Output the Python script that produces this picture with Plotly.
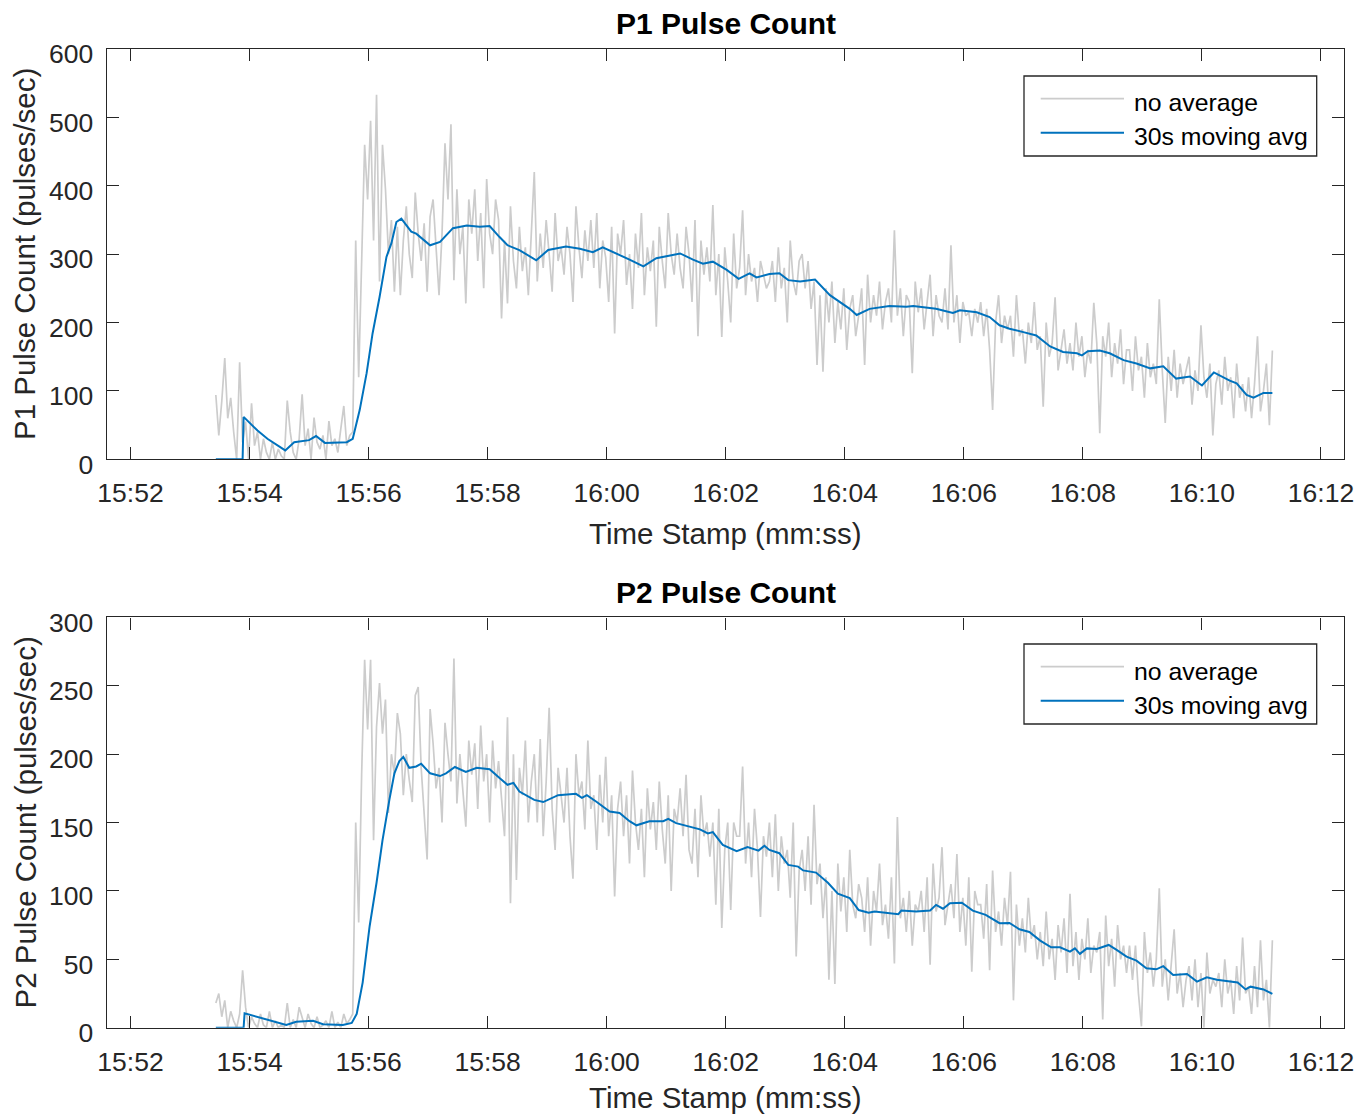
import pandas as pd
import plotly.graph_objects as go

# ---------------- data ----------------
base_time = "2020-01-01 15:52:00"      # reference clock origin (date is arbitrary)
raw_start_s = 86                        # first raw sample, seconds after 15:52:00
raw_step_s = 3                          # raw sampling step (s)

p1_raw = [
    94, 35, 85, 148, 60, 90, 40, 0, 142, 25,
    55, 0, 82, 20, 40, 0, 30, 10, 0, 25,
    0, 15, 5, 0, 86, 40, 10, 0, 30, 95,
    20, 45, 0, 61, 25, 15, 35, 0, 56, 20,
    30, 10, 45, 78, 20, 35,
    40, 320, 120, 300, 460, 380, 495, 320, 533, 260,
    460, 395, 300, 350, 245, 340, 240, 320, 370, 300,
    265, 390, 330, 290, 345, 245, 355, 380, 300, 240,
    330, 462, 380, 490, 262, 395, 300, 340, 228, 380,
    330,
    395, 290, 360, 250, 410, 330, 300, 380, 350, 206,
    320, 228, 370, 290, 250, 340, 275, 310, 240, 330,
    420, 260, 330, 280, 350, 300, 245, 360, 290, 310,
    270, 340, 300, 230, 370, 310, 265, 335, 290, 350,
    280, 360, 250, 320, 295, 230, 340, 184, 330, 300,
    350, 255, 300, 220, 330, 280, 360, 240, 310, 275,
    320, 194, 340, 290, 250, 360, 300, 270, 330, 280,
    250, 340, 300, 230, 350, 180, 320, 270, 310, 260,
    372, 240, 300, 179, 310, 260, 200, 330, 250, 280,
    364, 240, 300, 260, 280, 230, 290, 270, 250, 260,
    290, 230, 310, 250, 280, 200, 320, 260, 240, 290,
    300, 250, 290, 220, 260, 138, 240, 128, 250, 200,
    260, 170, 230, 190, 250, 160, 220, 240, 180, 210,
    250, 138, 270, 200, 240, 210, 260, 190, 230, 250,
    200, 335, 210, 250, 180, 240, 230, 126, 260, 215,
    250, 190, 230, 270, 180, 240, 210, 200, 250, 190,
    313, 200, 240, 170, 230, 210, 215, 180, 220, 200,
    230, 180, 220, 160, 72, 200, 240, 170, 210, 190,
    210, 150, 240, 180, 190, 140, 200, 170, 230, 160,
    180, 77, 200, 150, 170, 237, 130, 160, 190, 140,
    170, 130, 200, 150, 180, 120, 160, 140, 229, 170,
    38, 180, 150, 200, 120, 170, 140, 190, 110, 160,
    160, 100, 180, 130, 150, 90, 170, 120, 140, 110,
    234, 130, 53, 150, 100, 160, 90, 140, 110, 130,
    150, 80, 130, 100, 196, 120, 90, 140, 35, 110,
    130, 80, 150, 100, 120, 60, 140, 90, 110, 70,
    120, 60, 110, 180, 70, 100, 140, 50, 159,
]

p2_raw = [
    18, 25, 8, 20, 0, 12, 5, 0, 10, 42,
    15, 0, 8, 3, 0, 10, 2, 0, 12, 0,
    5, 0, 2, 0, 18, 0, 6, 0, 15, 8,
    0, 10, 3, 0, 8, 0, 2, 5, 0, 12,
    0, 4, 0, 10, 3, 6,
    10, 150, 77, 186, 269, 218, 269, 137, 220, 252,
    215, 240, 157, 200, 185, 230, 215, 170, 200, 181,
    165, 243, 249, 190, 160, 123, 233, 208, 175, 190,
    150, 223, 200, 180, 270, 164, 200, 175, 147, 210,
    185,
    208, 160, 221, 180, 200, 150, 210, 175, 195, 165,
    140, 227, 91, 200, 108, 190, 170, 210, 150, 180,
    200, 150, 211, 140, 180, 234, 160, 130, 190, 170,
    150, 190, 140, 109, 200, 170, 180, 145, 210, 160,
    170, 130, 185, 150, 198, 140, 170, 96, 160, 180,
    140, 170, 120, 188, 150, 130, 160, 110, 175, 145,
    165, 130, 180, 145, 120, 170, 100, 160, 150, 175,
    140, 185, 130, 120, 160, 110, 170, 140, 150, 125,
    150, 90, 160, 73, 130, 150, 86, 150, 140, 140,
    191, 120, 150, 110, 160, 130, 81, 140, 125, 150,
    110, 156, 100, 140, 120, 130, 95, 150, 52, 115,
    130, 100, 140, 90, 163, 105, 120, 80, 110, 35,
    100, 32, 120, 85, 110, 70, 130, 90, 80, 105,
    95, 70, 110, 60, 100, 85, 120, 75, 90, 65,
    110, 47, 154, 80, 95, 70, 100, 60, 90, 85,
    100, 70, 110, 46, 120, 85, 95, 132, 75, 90,
    105, 80, 127, 70, 95, 60, 110, 41, 100, 90,
    90, 65, 105, 42, 115, 70, 85, 60, 95, 75,
    114, 20, 90, 60, 80, 55, 95, 65, 75, 50,
    70, 45, 85, 50, 65, 35, 75, 55, 80, 40,
    98, 45, 70, 35, 65, 50, 80, 40, 60, 55,
    70, 6, 82, 45, 65, 30, 75, 50, 60, 40,
    60, 35, 60, 25, 1, 70, 40, 55, 30, 50,
    102, 30, 50, 20, 45, 72, 25, 40, 15, 35,
    45, 20, 50, 15, 40, 0, 55, 25, 35, 30,
    40, 15, 50, 25, 35, 10, 45, 20, 66, 25,
    30, 10, 45, 15, 64, 20, 35, 0, 64,
]

# 30 s moving average (seconds after 15:52:00, value)
p1_ma_t = [86, 113, 114, 128, 138, 148, 156, 165, 180, 187,
           196, 218, 224, 231, 238, 244, 251, 258, 263, 268,
           273, 283, 288, 302, 312, 325, 339, 352, 362, 372,
           380, 392, 401, 409, 421, 439, 453, 466, 476, 490,
           503, 517, 530, 544, 554, 567, 577, 587, 601, 613,
           624, 631, 644, 654, 663, 675, 690, 705, 715, 725,
           732, 745, 765, 782, 789, 812, 829, 836, 853, 866,
           876, 886, 900, 913, 927, 940, 954, 959, 965, 977,
           987, 1001, 1014, 1028, 1041, 1054, 1068, 1080, 1092, 1108,
           1115, 1125, 1132, 1142, 1151]
p1_ma_v = [0, 0, 62, 42, 30, 20, 13, 25, 28, 34,
           24, 25, 30, 72, 126, 184, 237, 296, 316, 347,
           352, 333, 330, 313, 318, 338, 342, 340, 341, 325,
           313, 306, 298, 291, 306, 311, 308, 303, 310, 301,
           292, 282, 294, 298, 301, 292, 286, 289, 277, 264,
           272, 266, 271, 272, 262, 260, 263, 240, 230, 220,
           211, 220, 224, 223, 224, 220, 214, 218, 215, 208,
           196, 191, 186, 181, 165, 157, 155, 152, 158, 159,
           155, 145, 140, 133, 136, 118, 121, 108, 127, 115,
           111, 94, 90, 97, 97]

p2_ma_t = [86, 114, 115, 130, 143, 157, 167, 184, 194, 214,
           223, 228, 234, 241, 248, 254, 261, 266, 271, 275,
           281, 288, 293, 302, 312, 318, 327, 338, 349, 362,
           372, 380, 386, 392, 407, 416, 431, 449, 455, 460,
           470, 483, 493, 503, 510, 523, 537, 542, 550, 564,
           574, 582, 587, 597, 611, 622, 633, 639, 644, 654,
           663, 673, 678, 691, 703, 713, 725, 734, 744, 750,
           762, 774, 777, 792, 806, 812, 819, 826, 838, 849,
           862, 876, 886, 896, 906, 917, 928, 937, 947, 952,
           957, 964, 974, 986, 994, 1004, 1014, 1024, 1034, 1041,
           1051, 1065, 1075, 1085, 1095, 1108, 1116, 1124, 1129, 1142,
           1151]
p2_ma_v = [0, 0, 10.5, 7.6, 5, 2, 4.3, 5, 2.5, 2,
           3.5, 10, 33, 74, 106, 137, 167, 186, 195, 198,
           190, 191, 193, 186, 184, 186, 190.6, 187, 190, 189,
           182.5, 177.6, 179, 172.7, 166.6, 165, 170, 171, 168, 170,
           165, 158, 157, 151, 148, 151, 151, 152.7, 149.6, 147,
           145, 142, 143, 133.7, 129, 132, 129.5, 133, 130, 127.6,
           119, 117.8, 115, 113.4, 106, 98, 94.7, 86, 84, 85,
           84, 83, 85.7, 85, 85.7, 89.8, 87, 91, 91.4, 85.6,
           82.5, 76.4, 76.6, 72, 70, 63.7, 58.8, 58.8, 55.6, 58,
           54, 58, 57.5, 60.5, 56.9, 52, 49, 43.5, 42.7, 45,
           38.6, 39.3, 33.7, 36.9, 35, 33.7, 33, 28, 30, 28,
           24.7]

titles = ["P1 Pulse Count", "P2 Pulse Count"]
y_titles = ["P1 Pulse Count (pulses/sec)", "P2 Pulse Count (pulses/sec)"]
x_title = "Time Stamp (mm:ss)"
legend_names = ["no average", "30s moving avg"]
y_max = [600, 300]
y_dtick = [100, 50]
x_range = ["2020-01-01 15:51:36", "2020-01-01 16:12:23.5"]

# ---------------- build ----------------
W, H = 1370, 1116
t0 = pd.Timestamp(base_time)


def raw_times(n):
    return [t0 + pd.Timedelta(seconds=raw_start_s + raw_step_s * i) for i in range(n)]


def ma_times(secs):
    return [t0 + pd.Timedelta(seconds=s) for s in secs]


def px(x):
    return x / W


def py(y):
    return 1 - y / H


GRAY = "rgb(204,204,204)"
BLUE = "#0072BD"
AX = "#262626"
FONT = "Liberation Sans, Arial, Helvetica, sans-serif"

fig = go.Figure()
fig.add_trace(go.Scatter(x=raw_times(len(p1_raw)), y=p1_raw, mode="lines",
                         line=dict(color=GRAY, width=1.7), name=legend_names[0],
                         xaxis="x", yaxis="y", showlegend=False))
fig.add_trace(go.Scatter(x=ma_times(p1_ma_t), y=p1_ma_v, mode="lines",
                         line=dict(color=BLUE, width=2), name=legend_names[1],
                         xaxis="x", yaxis="y", showlegend=False))
fig.add_trace(go.Scatter(x=raw_times(len(p2_raw)), y=p2_raw, mode="lines",
                         line=dict(color=GRAY, width=1.7), name=legend_names[0],
                         xaxis="x2", yaxis="y2", showlegend=False))
fig.add_trace(go.Scatter(x=ma_times(p2_ma_t), y=p2_ma_v, mode="lines",
                         line=dict(color=BLUE, width=2), name=legend_names[1],
                         xaxis="x2", yaxis="y2", showlegend=False))

x_dom = [px(106.7), px(1344.3)]
y_doms = [[py(459.3), py(49.0)], [py(1027.7), py(617.4)]]

common = dict(showline=True, linecolor=AX, linewidth=1.3, mirror="ticks",
              ticks="inside", ticklen=12, tickwidth=1.3, tickcolor=AX,
              showgrid=False, zeroline=False, automargin=False,
              tickfont=dict(family=FONT, size=26.5, color=AX))

xax = dict(common, type="date", range=x_range, tickformat="%H:%M",
           tick0="2020-01-01 15:52:00", dtick=120000, domain=x_dom,
           ticklabelstandoff=10)

fig.update_layout(
    template="none",
    width=W, height=H, margin=dict(l=0, r=0, t=0, b=0, pad=0, autoexpand=False),
    paper_bgcolor="white", plot_bgcolor="white", showlegend=False,
    font=dict(family=FONT, color=AX),
    xaxis=dict(xax, anchor="y"),
    xaxis2=dict(xax, anchor="y2"),
    yaxis=dict(common, range=[0, y_max[0]], dtick=y_dtick[0], domain=y_doms[0],
               anchor="x", ticklabelstandoff=7, ticklabelshift=5),
    yaxis2=dict(common, range=[0, y_max[1]], dtick=y_dtick[1], domain=y_doms[1],
                anchor="x2", ticklabelstandoff=7, ticklabelshift=5),
)

ann = []
shapes = []
cx = (106.7 + 1344.3) / 2
title_y = [24, 592]
xtitle_y = [533, 1097]
ytitle_y = [254, 822.5]
legend_top = [76, 644]
for i in range(2):
    ann.append(dict(text="<b>%s</b>" % titles[i], x=px(cx), y=py(title_y[i]),
                    xref="paper", yref="paper", showarrow=False,
                    xanchor="center", yanchor="middle",
                    font=dict(family=FONT, size=30, color="black")))
    ann.append(dict(text=x_title, x=px(cx), y=py(xtitle_y[i]),
                    xref="paper", yref="paper", showarrow=False,
                    xanchor="center", yanchor="middle",
                    font=dict(family=FONT, size=29.5, color=AX)))
    ann.append(dict(text=y_titles[i], x=px(25), y=py(ytitle_y[i]),
                    xref="paper", yref="paper", showarrow=False, textangle=-90,
                    xanchor="center", yanchor="middle",
                    font=dict(family=FONT, size=29.5, color=AX)))
    # legend (drawn manually to match the long line samples)
    top = legend_top[i]
    shapes.append(dict(type="rect", xref="paper", yref="paper",
                       x0=px(1024), x1=px(1316.7), y0=py(top + 80), y1=py(top),
                       line=dict(color=AX, width=1.3), fillcolor="white", layer="above"))
    for j, (col, dy) in enumerate([(GRAY, 22.7), (BLUE, 56.7)]):
        shapes.append(dict(type="line", xref="paper", yref="paper",
                           x0=px(1040.7), x1=px(1124), y0=py(top + dy), y1=py(top + dy),
                           line=dict(color=col, width=2 if j else 1.7), layer="above"))
        ann.append(dict(text=legend_names[j], x=px(1132), y=py(top + dy + 4.3),
                        xref="paper", yref="paper", showarrow=False,
                        xanchor="left", yanchor="middle",
                        font=dict(family=FONT, size=24.8, color="black")))

fig.update_layout(annotations=ann, shapes=shapes)
fig.write_html("out.html")
